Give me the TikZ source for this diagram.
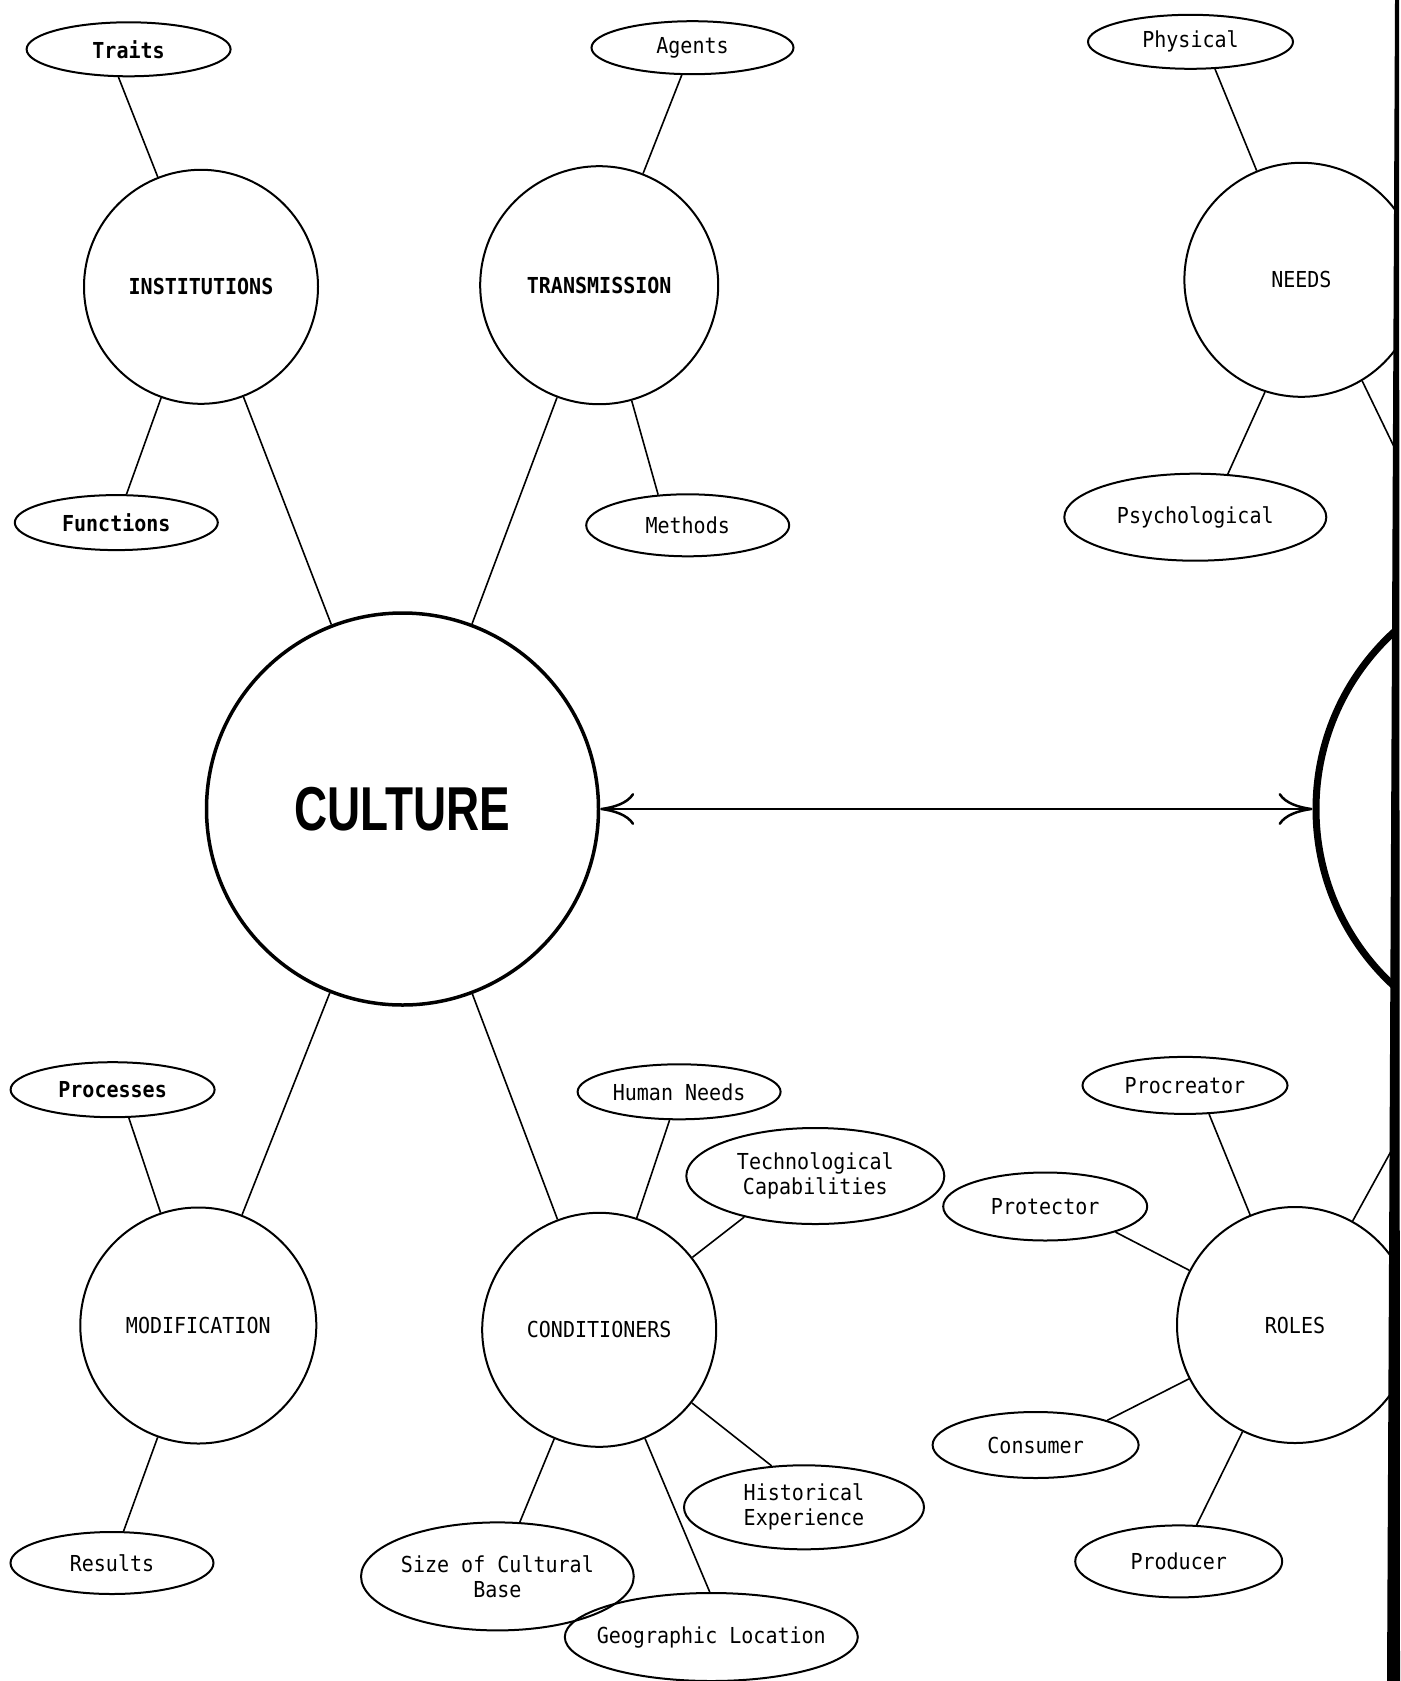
\documentclass[tikz,border=0pt]{standalone}
\usepackage{fontspec}
\setmonofont[FakeStretch=0.91]{DejaVu Sans Mono}
\newfontfamily\culturefont{Liberation Sans}
\usetikzlibrary{shapes.geometric,arrows.meta}
\newcommand\lblfont{\ttfamily\fontsize{22}{25}\selectfont}
\tikzset{
  lbl/.style={ellipse, draw, line width=2pt, inner sep=0pt, font=\lblfont, align=center},
  hub/.style={circle, draw, line width=2pt, inner sep=0pt, font=\lblfont},
  link/.style={line width=1.6pt},
  dblarrow/.style={line width=2.5pt, {To[length=34pt,width=32pt]}-{To[length=34pt,width=32pt]}},
}
\begin{document}
\begin{tikzpicture}[x=1pt,y=-1pt]
\useasboundingbox (0,0) rectangle (1400,1681);
\fill[white] (0,0) rectangle (1400,1681);
\begin{scope}
\clip (0,0) rectangle (1395,1681);
% hubs
\node[hub, minimum size=234pt, font=\lblfont\bfseries] (inst) at (201,286.8) {INSTITUTIONS};
\node[hub, minimum size=238pt, font=\lblfont\bfseries] (trans) at (599.2,285.2) {TRANSMISSION};
\node[hub, minimum size=234pt] (needs) at (1301.4,279.8) {NEEDS};
\node[hub, minimum size=392pt, line width=3.5pt] (culture) at (402.5,809)
  {\culturefont\bfseries\fontsize{62}{62}\selectfont\scalebox{0.74}[1]{CULTURE}};
\node[hub, minimum size=480pt, line width=7pt] (big) at (1556,809) {};
\node[hub, minimum size=236pt] (mod) at (198.3,1325.5) {MODIFICATION};
\node[hub, minimum size=234pt] (cond) at (599.2,1329.8) {CONDITIONERS};
\node[hub, minimum size=236pt] (roles) at (1295,1325) {ROLES};
% leaves
\node[lbl, minimum width=204pt, minimum height=54pt, font=\lblfont\bfseries] (traits) at (128.6,49.3) {Traits};
\node[lbl, minimum width=202pt, minimum height=53pt] (agents) at (692.5,47.7) {Agents};
\node[lbl, minimum width=205pt, minimum height=54pt] (physical) at (1190.5,41.8) {Physical};
\node[lbl, minimum width=203pt, minimum height=55pt, font=\lblfont\bfseries] (functions) at (116.3,522.6) {Functions};
\node[lbl, minimum width=203pt, minimum height=62pt] (methods) at (687.7,525.3) {Methods};
\node[lbl, minimum width=262pt, minimum height=87pt] (psych) at (1195.3,517.2) {Psychological};
\node[lbl, minimum width=204pt, minimum height=55pt, font=\lblfont\bfseries] (processes) at (112.6,1089.7) {Processes};
\node[lbl, minimum width=203pt, minimum height=62pt] (results) at (112,1563) {Results};
\node[lbl, minimum width=203pt, minimum height=55pt] (humanneeds) at (679.1,1091.8) {Human Needs};
\node[lbl, minimum width=258pt, minimum height=96pt] (tech) at (815.3,1176) {Technological\\Capabilities};
\node[lbl, minimum width=240pt, minimum height=84pt] (hist) at (804,1507.3) {Historical\\Experience};
\node[lbl, minimum width=272pt, minimum height=108pt] (size) at (497.4,1576.4) {Size of Cultural\\Base};
\node[lbl, minimum width=293pt, minimum height=88pt] (geo) at (711.3,1637) {\makebox[150pt][c]{Geographic Location}};
\node[lbl, minimum width=205pt, minimum height=57pt] (procreator) at (1185,1085.4) {Procreator};
\node[lbl, minimum width=204pt, minimum height=68pt] (protector) at (1045.2,1206.5) {Protector};
\node[lbl, minimum width=206pt, minimum height=66pt] (consumer) at (1035.6,1445) {Consumer};
\node[lbl, minimum width=207pt, minimum height=72pt] (producer) at (1178.7,1561.4) {Producer};
% connectors
\draw[link] (traits.-110) -- (inst);
\draw[link] (inst) -- (functions);
\draw[link] (inst) -- (culture);
\draw[link] (trans) -- (culture);
\draw[link] (agents) -- (trans);
\draw[link] (trans) -- (methods.134);
\draw[link] (physical.-48) -- (needs);
\draw[link] (needs.-108) -- (psych.53);
\draw[link] (needs.-59) -- (big.113);
\draw[link] (culture) -- (mod);
\draw[link] (culture) -- (cond);
\draw[link] (processes.-60) -- (mod);
\draw[link] (mod) -- (results);
\draw[link] (humanneeds) -- (cond);
\draw[link] (tech.-150) -- (cond);
\draw[link] (cond) -- (hist.128);
\draw[link] (cond) -- (geo.92);
\draw[link] (cond) -- (size);
\draw[link] (procreator.-50) -- (roles);
\draw[link] (protector.-20) -- (roles);
\draw[link] (roles) -- (consumer.19);
\draw[link] (roles) -- (producer);
\draw[link] (roles.61) -- (big.-114);
\draw[dblarrow] (culture) -- (big);
\end{scope}
% scanned page edge
\fill[black] (1395,0) -- (1399,0) -- (1400,1681) -- (1387,1681) -- cycle;
\end{tikzpicture}
\end{document}
